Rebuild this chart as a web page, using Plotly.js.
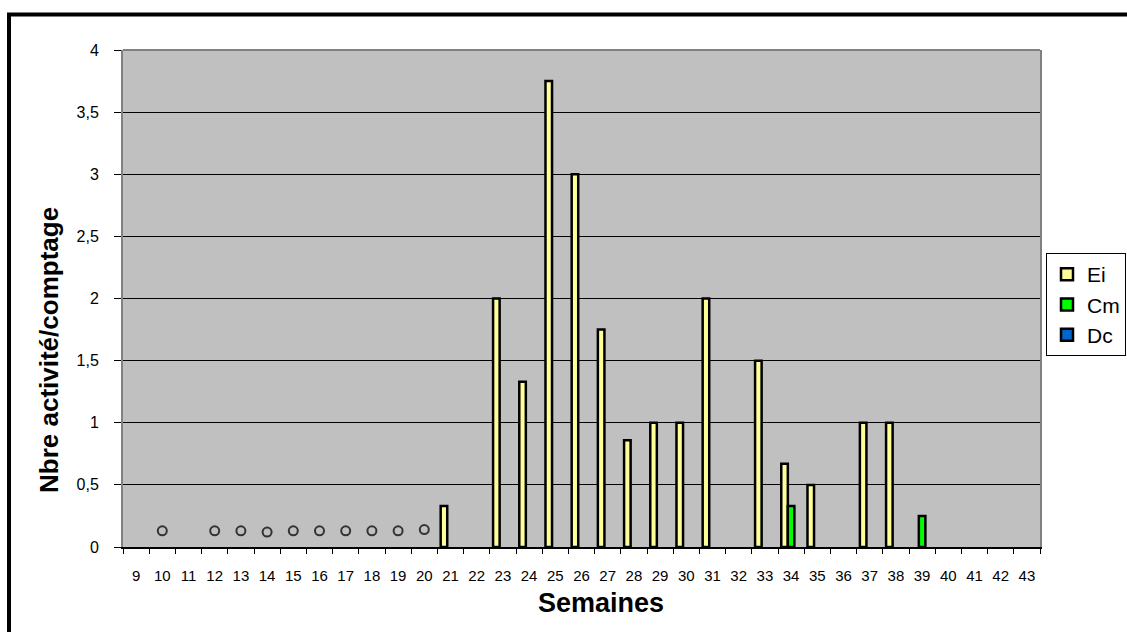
<!DOCTYPE html>
<html>
<head>
<meta charset="utf-8">
<script src="https://cdn.plot.ly/plotly-3.0.1.min.js"></script>
<style>
html, body { margin: 0; padding: 0; background: #fff; }
#chart { width: 1127px; height: 632px; }
</style>
</head>
<body>
<div id="chart"></div>
<script>
// Categories (weeks)
const weeks = ['9','10','11','12','13','14','15','16','17','18','19','20','21','22','23','24','25','26','27','28','29','30','31','32','33','34','35','36','37','38','39','40','41','42','43'];

// Series values, one per week (null = no bar)
const ei = [null,null,null,null,null,null,null,null,null,null,null,null,0.33,null,2,1.33,3.75,3,1.75,0.86,1,1,2,null,1.5,0.67,0.5,null,1,1,null,null,null,null,null];
const cm = [null,null,null,null,null,null,null,null,null,null,null,null,null,null,null,null,null,null,null,null,null,null,null,null,null,0.33,null,null,null,null,0.25,null,null,null,null];
const dc = [null,null,null,null,null,null,null,null,null,null,null,null,null,null,null,null,null,null,null,null,null,null,null,null,null,null,null,null,null,null,null,null,null,null,null];

// Open-circle markers
const circleWeeks = ['10','12','13','14','15','16','17','18','19','20'];
const circleValues = [0.13,0.13,0.13,0.12,0.13,0.13,0.13,0.13,0.13,0.14];

const yTickVals = [0,0.5,1,1.5,2,2.5,3,3.5,4];

const seriesNames = ['Ei','Cm','Dc'];
const seriesColors = ['#FFFF99','#00FF00','#0066CC'];

const W = 1127, H = 632;
const L = 123, R = 1040, T = 50, B = 547;
const pw = R - L, ph = B - T;
const px = x => (x - L) / pw;
const py = y => (B - y) / ph;

const barData = [ei, cm, dc];
const traces = barData.map((vals, i) => ({
  type: 'bar',
  name: seriesNames[i],
  x: weeks,
  y: vals,
  marker: { color: seriesColors[i], line: { color: '#000', width: 2.5 } },
  hoverinfo: 'skip'
}));
traces.push({
  type: 'scatter',
  mode: 'markers',
  x: circleWeeks,
  y: circleValues,
  showlegend: false,
  marker: { symbol: 'circle-open', size: 9, color: '#333', line: { width: 2, color: '#333' } },
  hoverinfo: 'skip'
});

const layout = {
  width: W, height: H,
  margin: { l: L, r: W - R, t: T, b: H - B, autoexpand: false },
  paper_bgcolor: '#fff',
  plot_bgcolor: '#C0C0C0',
  separators: ', ',
  font: { family: 'Liberation Sans, Arial, sans-serif', color: '#000' },
  barmode: 'group',
  bargap: 0.25,
  bargroupgap: 0,
  showlegend: true,
  legend: {
    x: px(1046), xanchor: 'left',
    y: py(253), yanchor: 'top',
    bgcolor: '#fff',
    bordercolor: '#000', borderwidth: 1,
    font: { size: 21, family: 'Liberation Sans, Arial, sans-serif', color: '#000' },
    traceorder: 'normal'
  },
  xaxis: {
    type: 'category',
    categoryorder: 'array', categoryarray: weeks,
    range: [-0.5, weeks.length - 0.5],
    tickson: 'boundaries',
    ticks: 'outside', ticklen: 5, tickwidth: 1, tickcolor: '#000',
    showline: true, linecolor: '#000', linewidth: 2,
    showgrid: false, zeroline: false,
    tickfont: { size: 15, color: '#000' },
    ticklabelstandoff: 14,
    tickangle: 0
  },
  yaxis: {
    range: [0, 4],
    tickvals: yTickVals,
    ticks: 'outside', ticklen: 7, tickcolor: '#000',
    showline: true, linecolor: '#808080', linewidth: 2, mirror: true,
    showgrid: true, gridcolor: '#000', gridwidth: 1.2,
    zeroline: false,
    tickfont: { size: 16, color: '#000' },
    ticklabelstandoff: 12
  },
  annotations: [
    {
      text: '<b>Nbre activité/comptage</b>',
      xref: 'paper', yref: 'paper',
      x: px(49), y: py(350),
      textangle: -90, showarrow: false,
      xanchor: 'center', yanchor: 'middle',
      font: { size: 26, color: '#000', family: 'Liberation Sans, Arial, sans-serif' }
    },
    {
      text: '<b>Semaines</b>',
      xref: 'paper', yref: 'paper',
      x: px(601), y: py(603),
      showarrow: false,
      xanchor: 'center', yanchor: 'middle',
      font: { size: 27, color: '#000', family: 'Liberation Sans, Arial, sans-serif' }
    }
  ],
  shapes: [
    {
      type: 'line', xref: 'paper', yref: 'paper',
      x0: 0, x1: 1, y0: 1, y1: 1,
      line: { color: '#808080', width: 2 }, layer: 'above'
    },
    {
      type: 'rect', xref: 'paper', yref: 'paper',
      x0: px(9), x1: px(1300), y0: py(800), y1: py(14.5),
      line: { color: '#000', width: 4 }, fillcolor: 'rgba(0,0,0,0)', layer: 'above'
    }
  ]
};

Plotly.newPlot('chart', traces, layout, { displayModeBar: false, staticPlot: true });
</script>
</body>
</html>
